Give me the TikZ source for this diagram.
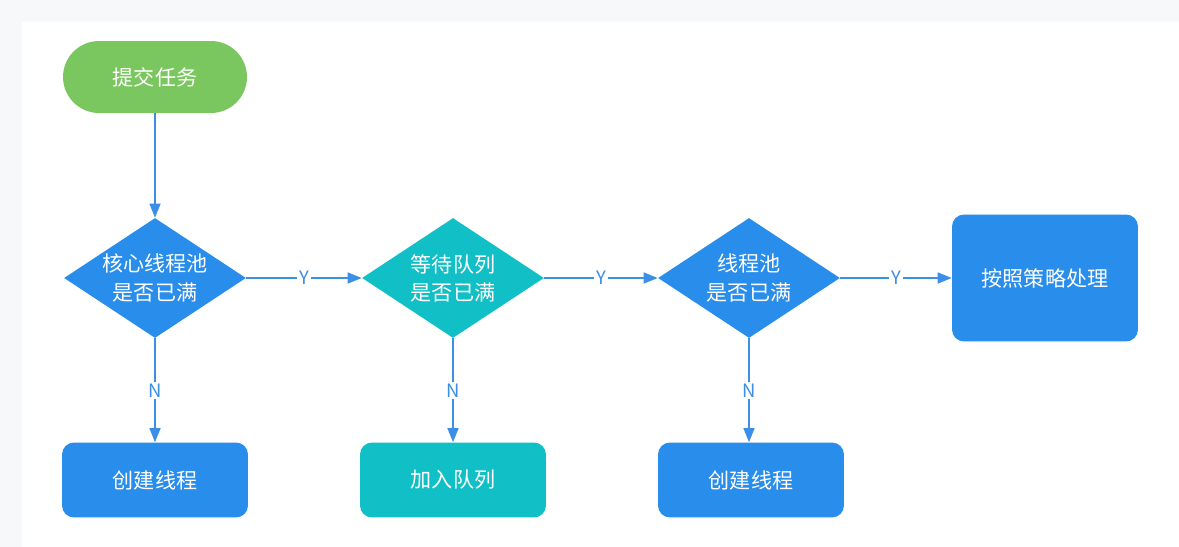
\documentclass[tikz,border=0pt]{standalone}
\usepackage{fontspec}
\setmainfont{Noto Sans CJK SC}
\usetikzlibrary{shapes.geometric,arrows.meta}
\definecolor{okgreen}{HTML}{7AC75F}
\definecolor{boxblue}{HTML}{298DEB}
\definecolor{boxteal}{HTML}{11BFC6}
\definecolor{lineblue}{HTML}{3B8FE6}
\definecolor{pagegray}{HTML}{F7F8FA}
\tikzset{
  startnode/.style={fill=okgreen, draw=none, rounded corners=0.72cm, minimum width=3.68cm, minimum height=1.44cm, text=white, font=\fontsize{12}{14}\selectfont},
  decide/.style={diamond, fill=#1, draw=none, inner sep=0pt, minimum width=3.64cm, minimum height=2.4cm},
  decidetext/.style={text=white, align=center, inner sep=0pt, font=\fontsize{12}{16}\selectfont},
  actbox/.style={fill=#1, draw=none, rounded corners=0.24cm, minimum width=3.72cm, minimum height=1.5cm, text=white, font=\fontsize{12}{14}\selectfont},
  flow/.style={draw=lineblue, line width=0.85pt, -{Triangle[length=0.28cm,width=0.22cm]}},
  yn/.style={fill=white, text=lineblue, inner sep=1pt, font=\fontsize{10.5}{12}\selectfont}
}
\begin{document}
\begin{tikzpicture}[x=0.02cm, y=-0.02cm]
\fill [pagegray] (0,0) rectangle (1179,547);
\fill [white] (22,22) rectangle (1179,547);
\useasboundingbox (0,0) rectangle (1179,547);

\node [startnode] (start) at (155,77) {提交任务}; % Inicio
\node [decide=boxblue, label={[decidetext]center:核心线程池\\是否已满}] (core) at (155,278) {};
\node [decide=boxteal, label={[decidetext]center:等待队列\\是否已满}] (queue) at (453,278) {};
\node [decide=boxblue, label={[decidetext]center:线程池\\是否已满}] (pool) at (749,278) {};
\node [actbox=boxblue, minimum height=2.54cm] (policy) at (1045,278) {按照策略处理};

\node [actbox=boxblue] (newcore) at (155,480) {创建线程};
\node [actbox=boxteal] (enqueue) at (453,480) {加入队列};
\node [actbox=boxblue] (newthread) at (751,480) {创建线程};

\draw [flow] (start) -- (core);
\draw [flow] (core) -- node [yn] {Y} (queue);
\draw [flow] (queue) -- node [yn] {Y} (pool);
\draw [flow] (pool) -- node [yn] {Y} (policy);
\draw [flow] (core) -- node [yn] {N} (newcore);
\draw [flow] (queue) -- node [yn] {N} (enqueue);
\draw [flow] (pool.south) -- node [yn] {N} (pool.south |- newthread.north);

\end{tikzpicture}
\end{document}
